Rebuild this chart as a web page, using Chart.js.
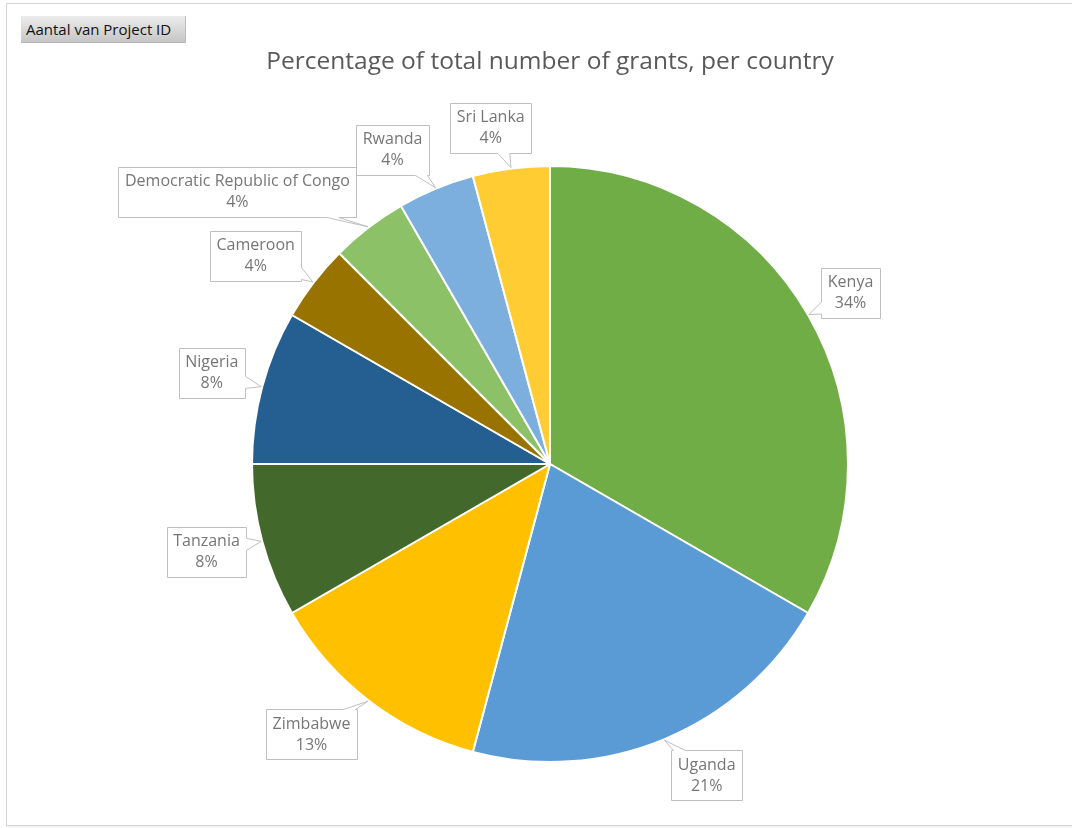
<!DOCTYPE html>
<html>
<head>
<meta charset="utf-8">
<title>Percentage of total number of grants, per country</title>
<script src="https://cdn.jsdelivr.net/npm/chart.js@4.4.1/dist/chart.umd.min.js"></script>
<style>
  html, body { margin: 0; padding: 0; background: #fff; }
  #wrap { position: relative; width: 1072px; height: 828px; overflow: hidden; }
  #frame {
    position: absolute; left: 6px; top: 3px; width: 1080px; height: 821px;
    border: 1px solid #d6d6d6; box-shadow: 1px 1px 2px rgba(0,0,0,0.08);
    pointer-events: none;
  }
  #fieldBtn {
    position: absolute; left: 21px; top: 16px; width: 165px; height: 27px;
    box-sizing: border-box; padding: 3px 0 0 5px;
    background: linear-gradient(#ededed, #c6c6c6);
    border-right: 1px solid #bdbdbd; border-bottom: 1px solid #b5b5b5;
    font: 15px "Open Sans", sans-serif; color: #111; white-space: nowrap;
  }
  canvas { position: absolute; left: 0; top: 0; }
</style>
</head>
<body>
<div id="wrap">
  <canvas id="pieChart" width="1072" height="828"></canvas>
  <div id="frame"></div>
  <div id="fieldBtn">Aantal van Project ID</div>
</div>
<script>
// Data (slice sizes = grant counts, labels as printed)
const countries = ['Kenya', 'Uganda', 'Zimbabwe', 'Tanzania', 'Nigeria',
  'Cameroon', 'Democratic Republic of Congo', 'Rwanda', 'Sri Lanka'];
const grants = [8, 5, 3, 2, 2, 1, 1, 1, 1];
const pctLabels = ['34%', '21%', '13%', '8%', '8%', '4%', '4%', '4%', '4%'];

// Office-like palette
const sliceColors = ['#70AD47', '#5B9BD5', '#FFC000', '#43682B', '#255E91',
  '#997300', '#8CC168', '#7CAFDD', '#FFCD33'];

// Callout placement: [angle shift in degrees, distance as share of radius]
const calloutLayout = [
  [0.4, 1.16], [-4.2, 1.17], [3.9, 1.21], [0.6, 1.19], [0, 1.175],
  [-2.2, 1.21], [-11.5, 1.39], [-4.1, 1.18], [-2.5, 1.145]
];

// Draws Excel-style data callouts (box with a pointer to the slice)
const calloutPlugin = {
  id: 'callouts',
  afterDatasetsDraw(chart) {
    const ctx = chart.ctx;
    const arcs = chart.getDatasetMeta(0).data;
    ctx.save();
    ctx.font = '16px "Open Sans", sans-serif';
    ctx.textAlign = 'center';
    ctx.textBaseline = 'middle';
    const lineH = 21;

    arcs.forEach((arc, i) => {
      const { x: cx, y: cy, startAngle, endAngle, outerRadius } = arc.getProps(
        ['x', 'y', 'startAngle', 'endAngle', 'outerRadius'], true);
      const mid = (startAngle + endAngle) / 2;
      const [shift, dist] = calloutLayout[i];
      const a = mid + shift * Math.PI / 180;
      const bx = cx + Math.cos(a) * outerRadius * dist;
      const by = cy + Math.sin(a) * outerRadius * dist;
      const tip = [cx + Math.cos(mid) * (outerRadius + 1), cy + Math.sin(mid) * (outerRadius + 1)];

      const lines = [countries[i], pctLabels[i]];
      const w = Math.max(...lines.map(t => ctx.measureText(t).width)) + 13;
      const h = lines.length * lineH + 8;
      const L = Math.round(bx - w / 2) + 0.5, R = Math.round(bx + w / 2) + 0.5;
      const T = Math.round(by - h / 2) + 0.5, B = Math.round(by + h / 2) + 0.5;

      // which edge the pointer leaves from
      const dx = tip[0] - bx, dy = tip[1] - by;
      let best = Infinity, edge = 0;
      if (dy < 0 && (T - by) / dy < best) { best = (T - by) / dy; edge = 0; }
      if (dx > 0 && (R - bx) / dx < best) { best = (R - bx) / dx; edge = 1; }
      if (dy > 0 && (B - by) / dy < best) { best = (B - by) / dy; edge = 2; }
      if (dx < 0 && (L - bx) / dx < best) { best = (L - bx) / dx; edge = 3; }
      const px = bx + dx * best, py = by + dy * best;
      const half = 6;
      const clamp = (v, lo, hi) => Math.min(Math.max(v, lo), hi);
      let b1, b2;
      if (edge === 0 || edge === 2) {
        const c = clamp(px, L + half + 2, R - half - 2);
        b1 = [c - half, edge === 0 ? T : B];
        b2 = [c + half, edge === 0 ? T : B];
        if (edge === 2) [b1, b2] = [b2, b1];
      } else {
        const c = clamp(py, T + half + 2, B - half - 2);
        b1 = [edge === 1 ? R : L, c - half];
        b2 = [edge === 1 ? R : L, c + half];
        if (edge === 3) [b1, b2] = [b2, b1];
      }

      const corners = [[L, T], [R, T], [R, B], [L, B]];
      ctx.beginPath();
      ctx.moveTo(L, T);
      for (let e = 0; e < 4; e++) {
        if (e === edge) {
          ctx.lineTo(b1[0], b1[1]);
          ctx.lineTo(tip[0], tip[1]);
          ctx.lineTo(b2[0], b2[1]);
        }
        const n = corners[(e + 1) % 4];
        ctx.lineTo(n[0], n[1]);
      }
      ctx.closePath();
      ctx.fillStyle = '#ffffff';
      ctx.fill();
      ctx.lineWidth = 1;
      ctx.strokeStyle = '#bfbfbf';
      ctx.stroke();

      ctx.fillStyle = '#767676';
      lines.forEach((t, k) => {
        ctx.fillText(t, bx, by + (k - (lines.length - 1) / 2) * lineH);
      });
    });
    ctx.restore();
  }
};

const ctx = document.getElementById('pieChart').getContext('2d');
new Chart(ctx, {
  type: 'pie',
  data: {
    labels: countries,
    datasets: [{
      data: grants,
      backgroundColor: sliceColors,
      borderColor: '#ffffff',
      borderWidth: 2,
      hoverOffset: 0,
    }]
  },
  options: {
    responsive: false,
    animation: false,
    devicePixelRatio: 1,
    layout: { padding: { left: 251, right: 223, top: 0, bottom: 65 } },
    plugins: {
      legend: { display: false },
      tooltip: { enabled: false },
      title: {
        display: true,
        text: 'Percentage of total number of grants, per country',
        color: '#595959',
        font: { family: '"Open Sans", sans-serif', size: 24.5, weight: 'normal' },
        padding: { top: 47.3, bottom: 88.3 }
      }
    }
  },
  plugins: [calloutPlugin]
});
</script>
</body>
</html>
